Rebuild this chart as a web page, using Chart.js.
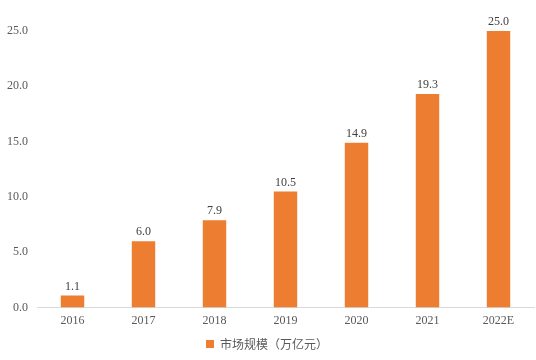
<!DOCTYPE html>
<html>
<head>
<meta charset="utf-8">
<script src="https://cdn.jsdelivr.net/npm/chart.js@4/dist/chart.umd.min.js"></script>
<style>
	html, body { margin: 0; padding: 0; background: #fff; }
	#wrap { width: 536px; height: 360px; }
</style>
</head>
<body>
<div id="wrap"><canvas id="barChart" width="536" height="360"></canvas></div>
<script>
var years = ['2016', '2017', '2018', '2019', '2020', '2021', '2022E'];
var marketSize = [1.1, 6.0, 7.9, 10.5, 14.9, 19.3, 25.0];
var yTicks = [0, 5, 10, 15, 20, 25];
var seriesName = '市场规模（万亿元）';

var serif = '"Liberation Serif", "Times New Roman", serif';

// values above bars
var barValues = {
	id: 'barValues',
	afterDatasetsDraw: function(chart) {
		var ctx = chart.ctx;
		var meta = chart.getDatasetMeta(0);
		ctx.save();
		ctx.font = '12px ' + serif;
		ctx.fillStyle = '#404040';
		ctx.textAlign = 'center';
		ctx.textBaseline = 'bottom';
		meta.data.forEach(function(bar, i) {
			ctx.fillText(marketSize[i].toFixed(1), bar.x, bar.y - 3);
		});
		ctx.restore();
	}
};

var ctx = document.getElementById('barChart');
var barChart = new Chart(ctx, {
	type: 'bar',
	data: {
		labels: years,
		datasets: [{
			label: seriesName,
			data: marketSize,
			backgroundColor: '#ED7D31',
			borderWidth: 0,
			barPercentage: 0.66,
			categoryPercentage: 0.5
		}]
	},
	options: {
		responsive: false,
		animation: false,
		layout: { padding: { top: 31, right: 2, left: 0, bottom: 0 } },
		plugins: {
			legend: {
				position: 'bottom',
				labels: {
					usePointStyle: true,
					pointStyle: 'rect',
					boxWidth: 8,
					boxHeight: 8,
					padding: 4,
					color: '#595959',
					font: { family: '"Noto Sans CJK SC", sans-serif', size: 12 }
				}
			},
			tooltip: { enabled: false }
		},
		scales: {
			x: {
				grid: { display: false, drawTicks: false },
				border: { display: true, color: '#D9D9D9', width: 1 },
				ticks: { color: '#595959', font: { family: serif, size: 12 }, padding: 6 }
			},
			y: {
				min: 0,
				max: 25,
				afterBuildTicks: function(axis) {
					axis.ticks = yTicks.map(function(v) { return { value: v }; });
				},
				afterFit: function(axis) { axis.width = 37; },
				grid: { display: false, drawTicks: false },
				border: { display: false },
				ticks: {
					color: '#595959',
					font: { family: serif, size: 12 },
					padding: 9,
					callback: function(v) { return Number(v).toFixed(1); }
				}
			}
		}
	},
	plugins: [barValues]
});
</script>
</body>
</html>
